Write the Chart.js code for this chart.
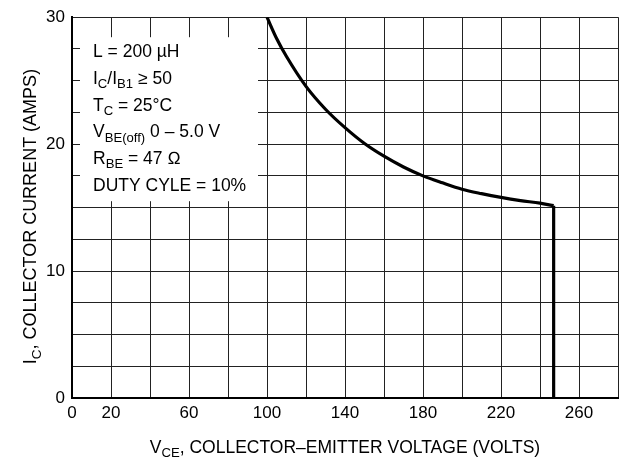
<!DOCTYPE html>
<html>
<head>
<meta charset="utf-8">
<script src="https://cdn.jsdelivr.net/npm/chart.js@4/dist/chart.umd.min.js"></script>
<style>
  html, body { margin: 0; padding: 0; background: #fff; }
  #wrap { width: 623px; height: 460px; }
</style>
</head>
<body>
<div id="wrap"><canvas id="soaGraph"></canvas></div>
<script>
// curve (volts, amps)
const voltage = [100, 105, 110, 120, 130, 140, 150, 160, 170, 180, 190, 200, 210, 220, 230, 240, 247];
const current = [30, 28.3, 26.9, 24.55, 22.75, 21.3, 20.05, 19.05, 18.2, 17.5, 16.95, 16.45, 16.1, 15.8, 15.55, 15.35, 15.15];
// vertical drop at the voltage limit
const dropVoltage = [247, 247];
const dropCurrent = [15.15, 0];

const xTickLabels = [0, 20, 60, 100, 140, 180, 220, 260];
const yTickLabels = [0, 10, 20, 30];

// [text, isSubscript]
const conditions = [
  [['L = 200 \u00B5H', 0]],
  [['I', 0], ['C', 1], ['/I', 0], ['B1', 1], [' \u2265 50', 0]],
  [['T', 0], ['C', 1], [' = 25\u00B0C', 0]],
  [['V', 0], ['BE(off)', 1], [' 0 \u2013 5.0 V', 0]],
  [['R', 0], ['BE', 1], [' = 47 \u2126', 0]],
  [['DUTY CYLE = 10%', 0]]
];
const xTitle = [['V', 0], ['CE', 1], [', COLLECTOR\u2013EMITTER VOLTAGE (VOLTS)', 0]];
const yTitle = [['I', 0], ['C', 1], [', COLLECTOR CURRENT (AMPS)', 0]];

const FONT = 'Liberation Sans';

function richWidth(ctx, parts, size) {
  let w = 0;
  parts.forEach(([t, sub]) => {
    ctx.font = (sub ? size * 0.75 : size) + 'px ' + FONT;
    w += ctx.measureText(t).width;
  });
  return w;
}

function drawRich(ctx, parts, x, y, size) {
  parts.forEach(([t, sub]) => {
    ctx.font = (sub ? size * 0.75 : size) + 'px ' + FONT;
    ctx.fillText(t, x, sub ? y + size * 0.25 : y);
    x += ctx.measureText(t).width;
  });
}

const textPlugin = {
  id: 'textPlugin',
  beforeDatasetsDraw(chart) {
    const ctx = chart.ctx;
    const a = chart.chartArea;
    ctx.save();
    // white box holding the test conditions
    ctx.fillStyle = '#fff';
    ctx.fillRect(a.left + 8, a.top + 20, 178, 164);
    ctx.fillStyle = '#000';
    ctx.textBaseline = 'alphabetic';
    ctx.textAlign = 'left';
    conditions.forEach((line, i) => {
      drawRich(ctx, line, a.left + 21, a.top + 40 + i * 26.7, 17.5);
    });
    ctx.restore();
  },
  afterDraw(chart) {
    const ctx = chart.ctx;
    const a = chart.chartArea;
    ctx.save();
    ctx.fillStyle = '#000';
    ctx.textBaseline = 'alphabetic';
    ctx.textAlign = 'left';
    let w = richWidth(ctx, xTitle, 17.5);
    drawRich(ctx, xTitle, (a.left + a.right) / 2 - w / 2, 453, 17.5);
    ctx.translate(36, (a.top + a.bottom) / 2 + 9);
    ctx.rotate(-Math.PI / 2);
    w = richWidth(ctx, yTitle, 18);
    drawRich(ctx, yTitle, -w / 2, 0, 18);
    ctx.restore();
  }
};

const curvePoints = voltage.map((v, i) => ({ x: v, y: current[i] }));
const dropPoints = dropVoltage.map((v, i) => ({ x: v, y: dropCurrent[i] }));

new Chart(document.getElementById('soaGraph').getContext('2d'), {
  type: 'line',
  data: {
    datasets: [{
      label: 'RBSOA',
      data: curvePoints,
      borderColor: '#000',
      borderWidth: 3.2,
      pointRadius: 0,
      cubicInterpolationMode: 'monotone',
      fill: false
    }, {
      label: 'VCE limit',
      data: dropPoints,
      borderColor: '#000',
      borderWidth: 3.2,
      pointRadius: 0,
      fill: false
    }]
  },
  options: {
    responsive: true,
    maintainAspectRatio: false,
    animation: false,
    layout: { padding: { top: 13, right: 2, left: 0, bottom: 0 } },
    plugins: {
      legend: { display: false },
      tooltip: { enabled: false }
    },
    scales: {
      x: {
        type: 'linear',
        min: 0,
        max: 280,
        afterFit: s => { s.height = 62; },
        ticks: {
          stepSize: 20,
          autoSkip: false,
          maxRotation: 0,
          padding: 5,
          color: '#000',
          font: { family: FONT, size: 17 },
          callback: v => xTickLabels.includes(v) ? String(v) : ''
        },
        grid: { color: '#222', lineWidth: 1, drawTicks: false },
        border: { color: '#000', width: 2 }
      },
      y: {
        min: 0,
        max: 30,
        afterFit: s => { s.width = 72; },
        ticks: {
          stepSize: 2.5,
          autoSkip: false,
          padding: 7,
          color: '#000',
          font: { family: FONT, size: 17 },
          callback: v => yTickLabels.includes(v) ? String(v) : ''
        },
        grid: { color: '#222', lineWidth: 1, drawTicks: false },
        border: { color: '#000', width: 2 }
      }
    }
  },
  plugins: [textPlugin]
});
</script>
</body>
</html>
